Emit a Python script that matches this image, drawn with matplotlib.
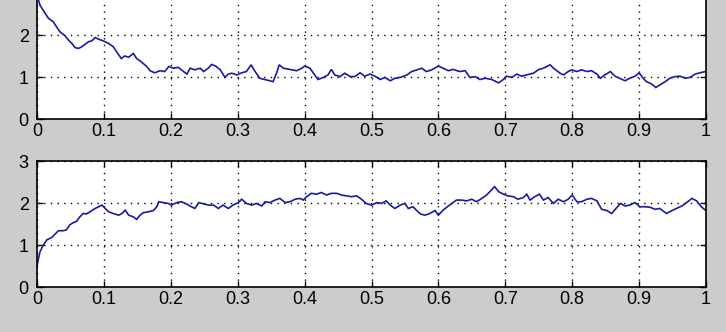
import matplotlib
matplotlib.use("Agg")
import matplotlib.pyplot as plt

# ---- data ----
top_x = [0.0, 0.0045, 0.012, 0.017, 0.024, 0.029, 0.034, 0.042, 0.047, 0.052, 0.057, 0.062,
         0.067, 0.072, 0.077, 0.082, 0.087, 0.092, 0.099, 0.107, 0.114, 0.119, 0.126, 0.131,
         0.137, 0.144, 0.149, 0.156, 0.164, 0.169, 0.176, 0.184, 0.191, 0.197, 0.204, 0.211,
         0.219, 0.224, 0.229, 0.236, 0.244, 0.249, 0.256, 0.261, 0.268, 0.274, 0.281, 0.286,
         0.291, 0.299, 0.306, 0.313, 0.320, 0.326, 0.333, 0.343, 0.353, 0.358, 0.362, 0.368,
         0.378, 0.388, 0.396, 0.400, 0.408, 0.415, 0.420, 0.428, 0.435, 0.440, 0.445, 0.453,
         0.460, 0.468, 0.475, 0.483, 0.490, 0.498, 0.505, 0.513, 0.520, 0.528, 0.535, 0.543,
         0.553, 0.560, 0.568, 0.575, 0.582, 0.590, 0.600, 0.607, 0.615, 0.622, 0.632, 0.640,
         0.647, 0.655, 0.662, 0.670, 0.680, 0.690, 0.697, 0.702, 0.710, 0.717, 0.724, 0.732,
         0.742, 0.750, 0.757, 0.767, 0.772, 0.777, 0.782, 0.787, 0.794, 0.799, 0.807, 0.814,
         0.822, 0.829, 0.837, 0.842, 0.849, 0.857, 0.864, 0.871, 0.879, 0.886, 0.894, 0.900,
         0.906, 0.911, 0.919, 0.925, 0.931, 0.939, 0.946, 0.954, 0.961, 0.969, 0.976, 0.984,
         0.991, 0.999]
top_y = [2.95, 2.71, 2.52, 2.40, 2.32, 2.20, 2.08, 1.98, 1.88, 1.80, 1.70, 1.68,
         1.72, 1.78, 1.84, 1.86, 1.94, 1.90, 1.86, 1.80, 1.72, 1.60, 1.44, 1.50,
         1.47, 1.56, 1.44, 1.36, 1.25, 1.15, 1.10, 1.15, 1.13, 1.25, 1.21, 1.23,
         1.13, 1.07, 1.21, 1.17, 1.21, 1.13, 1.21, 1.30, 1.25, 1.17, 0.99, 1.07,
         1.09, 1.05, 1.10, 1.13, 1.29, 1.13, 0.97, 0.93, 0.89, 1.09, 1.29, 1.21,
         1.18, 1.15, 1.21, 1.26, 1.21, 1.05, 0.94, 0.99, 1.05, 1.18, 1.05, 1.01,
         1.09, 1.01, 1.01, 1.10, 1.02, 1.07, 1.02, 0.94, 0.99, 0.91, 0.97, 0.99,
         1.05, 1.13, 1.17, 1.21, 1.13, 1.17, 1.26, 1.21, 1.15, 1.18, 1.13, 1.15,
         0.99, 1.01, 0.94, 0.97, 0.94, 0.86, 0.94, 1.02, 0.99, 1.07, 1.02, 1.05,
         1.09, 1.18, 1.21, 1.29, 1.21, 1.15, 1.09, 1.05, 1.13, 1.17, 1.13, 1.17,
         1.13, 1.15, 1.07, 0.97, 1.05, 1.13, 1.02, 0.97, 0.91, 0.97, 1.02, 1.10,
         0.97, 0.89, 0.83, 0.75, 0.81, 0.89, 0.97, 1.01, 1.02, 0.97, 0.99, 1.07,
         1.10, 1.13]

bot_x = [0.0, 0.002, 0.0045, 0.0095, 0.0145, 0.022, 0.027, 0.032, 0.039, 0.044, 0.049, 0.054,
         0.059, 0.064, 0.069, 0.074, 0.079, 0.087, 0.092, 0.097, 0.102, 0.107, 0.114, 0.122,
         0.127, 0.132, 0.137, 0.144, 0.149, 0.154, 0.159, 0.166, 0.174, 0.179, 0.182, 0.189,
         0.196, 0.201, 0.209, 0.216, 0.223, 0.231, 0.236, 0.242, 0.249, 0.256, 0.264, 0.271,
         0.278, 0.286, 0.293, 0.301, 0.306, 0.313, 0.321, 0.328, 0.336, 0.341, 0.348, 0.356,
         0.363, 0.371, 0.378, 0.386, 0.393, 0.398, 0.403, 0.410, 0.418, 0.425, 0.433, 0.440,
         0.448, 0.455, 0.463, 0.470, 0.478, 0.485, 0.492, 0.500, 0.508, 0.515, 0.522, 0.528,
         0.535, 0.543, 0.550, 0.555, 0.562, 0.567, 0.573, 0.580, 0.587, 0.595, 0.600, 0.607,
         0.615, 0.622, 0.627, 0.635, 0.642, 0.650, 0.657, 0.665, 0.672, 0.677, 0.684, 0.690,
         0.697, 0.704, 0.712, 0.719, 0.727, 0.732, 0.737, 0.744, 0.751, 0.757, 0.764, 0.772,
         0.779, 0.787, 0.794, 0.800, 0.807, 0.814, 0.822, 0.829, 0.837, 0.844, 0.852, 0.859,
         0.867, 0.872, 0.879, 0.886, 0.894, 0.901, 0.909, 0.916, 0.924, 0.931, 0.941, 0.949,
         0.956, 0.964, 0.971, 0.979, 0.986, 0.993, 0.999]
bot_y = [0.50, 0.66, 0.84, 1.00, 1.12, 1.18, 1.26, 1.34, 1.34, 1.36, 1.48, 1.53,
         1.56, 1.67, 1.75, 1.74, 1.79, 1.87, 1.91, 1.95, 1.87, 1.79, 1.75, 1.71,
         1.75, 1.83, 1.71, 1.67, 1.61, 1.71, 1.77, 1.79, 1.82, 1.91, 2.03, 2.01,
         1.99, 1.95, 2.01, 2.03, 1.98, 1.91, 1.87, 2.01, 1.98, 1.95, 1.95, 1.87,
         1.95, 1.87, 1.95, 2.01, 2.09, 1.99, 1.95, 1.99, 1.93, 2.03, 2.01, 2.07,
         2.11, 2.01, 2.03, 2.09, 2.11, 2.07, 2.15, 2.23, 2.21, 2.25, 2.19, 2.23,
         2.23, 2.19, 2.17, 2.15, 2.17, 2.09, 1.99, 1.95, 2.01, 1.99, 2.05, 1.95,
         1.87, 1.95, 1.99, 1.87, 1.91, 1.83, 1.74, 1.71, 1.75, 1.82, 1.71, 1.83,
         1.93, 2.01, 2.07, 2.07, 2.05, 2.09, 2.03, 2.11, 2.19, 2.27, 2.39, 2.27,
         2.21, 2.17, 2.15, 2.09, 2.13, 2.21, 2.07, 2.15, 2.21, 2.07, 2.13, 1.99,
         2.09, 2.03, 2.09, 2.19, 2.03, 2.03, 2.09, 2.11, 2.05, 1.85, 1.82, 1.75,
         1.90, 1.99, 1.93, 1.95, 2.01, 1.91, 1.91, 1.90, 1.85, 1.87, 1.75, 1.82,
         1.87, 1.93, 2.01, 2.11, 2.05, 1.91, 1.83]

x_ticks = [0, 0.1, 0.2, 0.3, 0.4, 0.5, 0.6, 0.7, 0.8, 0.9, 1]
x_tick_labels = ["0", "0.1", "0.2", "0.3", "0.4", "0.5", "0.6", "0.7", "0.8", "0.9", "1"]
y_ticks = [0, 1, 2, 3]
top_y_tick_labels = ["0", "1", "2", ""]
bot_y_tick_labels = ["0", "1", "2", "3"]

# ---- styling ----
BG = "#cccccc"
LINE = "#1a1aa6"
FONT = ["Liberation Sans Narrow", "Liberation Sans", "DejaVu Sans"]
plt.rcParams["font.family"] = FONT

W, H = 726, 332
fig = plt.figure(figsize=(W / 100, H / 100), dpi=100, facecolor=BG)

left = 37 / W
width = 669 / W
ax_h = 126 / H
ax_top = fig.add_axes([left, (H - 119) / H, width, ax_h])
ax_bot = fig.add_axes([left, (H - 287) / H, width, ax_h])

for ax, xs, ys, ylabels in ((ax_top, top_x, top_y, top_y_tick_labels),
                            (ax_bot, bot_x, bot_y, bot_y_tick_labels)):
    ax.set_facecolor("white")
    ax.plot(xs, ys, color=LINE, lw=1.2, solid_joinstyle="miter")
    ax.set_xlim(0, 1)
    ax.set_ylim(0, 3)
    ax.set_xticks(x_ticks)
    ax.set_xticklabels(x_tick_labels)
    ax.set_yticks(y_ticks)
    ax.set_yticklabels(ylabels)
    ax.grid(True, color="black", linestyle=(0, (1, 3.8)), linewidth=1.0)
    ax.tick_params(direction="in", length=4, width=1, top=True, right=True,
                   labelsize=13, colors="black")
    ax.tick_params(axis="x", pad=3)
    ax.tick_params(axis="y", pad=6)
    for sp in ax.spines.values():
        sp.set_color("black")
        sp.set_linewidth(1.2)

fig.savefig("out.png", dpi=100, facecolor=BG)
